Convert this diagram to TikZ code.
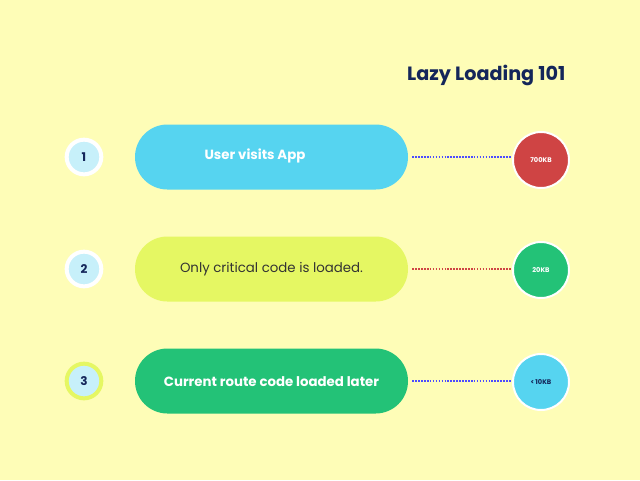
\documentclass[tikz,border=0pt]{standalone}
\usepackage{fontspec}
\setmainfont{Poppins}
\usetikzlibrary{positioning}
\definecolor{bgyel}{HTML}{FEFDB7}
\definecolor{skyc}{HTML}{56D4F0}
\definecolor{limec}{HTML}{E5F763}
\definecolor{greenc}{HTML}{23C277}
\definecolor{redc}{HTML}{CF4444}
\definecolor{stepc}{HTML}{C7F0FA}
\definecolor{navy}{HTML}{14265A}
\begin{document}
\begin{tikzpicture}[x=0.75pt,y=-0.75pt]
    \tikzstyle{stepnode}=[shape=circle,fill=stepc,draw=white,line width=3pt,minimum size=26pt,inner sep=0pt,font=\bfseries\small,text=navy]
    \tikzstyle{pill}=[rounded corners=24.3pt,minimum width=204.75pt,minimum height=48.75pt]
    \tikzstyle{sizenode}=[shape=circle,draw=white,line width=1.5pt,minimum size=42pt,inner sep=0pt,font=\bfseries\tiny,text=white]
    \tikzstyle{link}=[densely dotted,line width=1.2pt]

    \fill[bgyel] (0,0) rectangle (640,480);
    \node[anchor=east,font=\bfseries\Large,text=navy] (title) at (570,75) {Lazy Loading 101};

    \node[stepnode] (S1) at (84,157) {1};
    \node[stepnode] (S2) at (84,269) {2};
    \node[stepnode,draw=limec] (S3) at (84,381) {3};

    \node[pill,fill=skyc] (P1) at (271.5,157) {};
    \node[pill,fill=limec] (P2) at (271.5,269) {};
    \node[pill,fill=greenc] (P3) at (271.5,381) {};
    \node[font=\bfseries,text=white] (T1) at (255,156) {User visits App};
    \node[text=black!80] (T2) at (271.5,269) {Only critical code is loaded.};
    \node[font=\bfseries,text=white] (T3) at (271.5,382) {Current route code loaded later};

    \node[sizenode,fill=redc,draw=white] (K1) at (541,160) {700KB};
    \node[sizenode,fill=greenc] (K2) at (541,270) {20KB};
    \node[sizenode,fill=skyc,text=navy] (K3) at (541,382) {<\,10KB};

    \begin{scope}[on background layer/.style={}]
    \end{scope}
    \draw[link,blue!70] (P1.east) ++(4,0) -- (K1.west |- P1.east);
    \draw[link,redc] (P2.east) ++(4,0) -- (K2.west |- P2.east);
    \draw[link,blue!70] (P3.east) ++(4,0) -- (K3.west |- P3.east);
\end{tikzpicture}
\end{document}
